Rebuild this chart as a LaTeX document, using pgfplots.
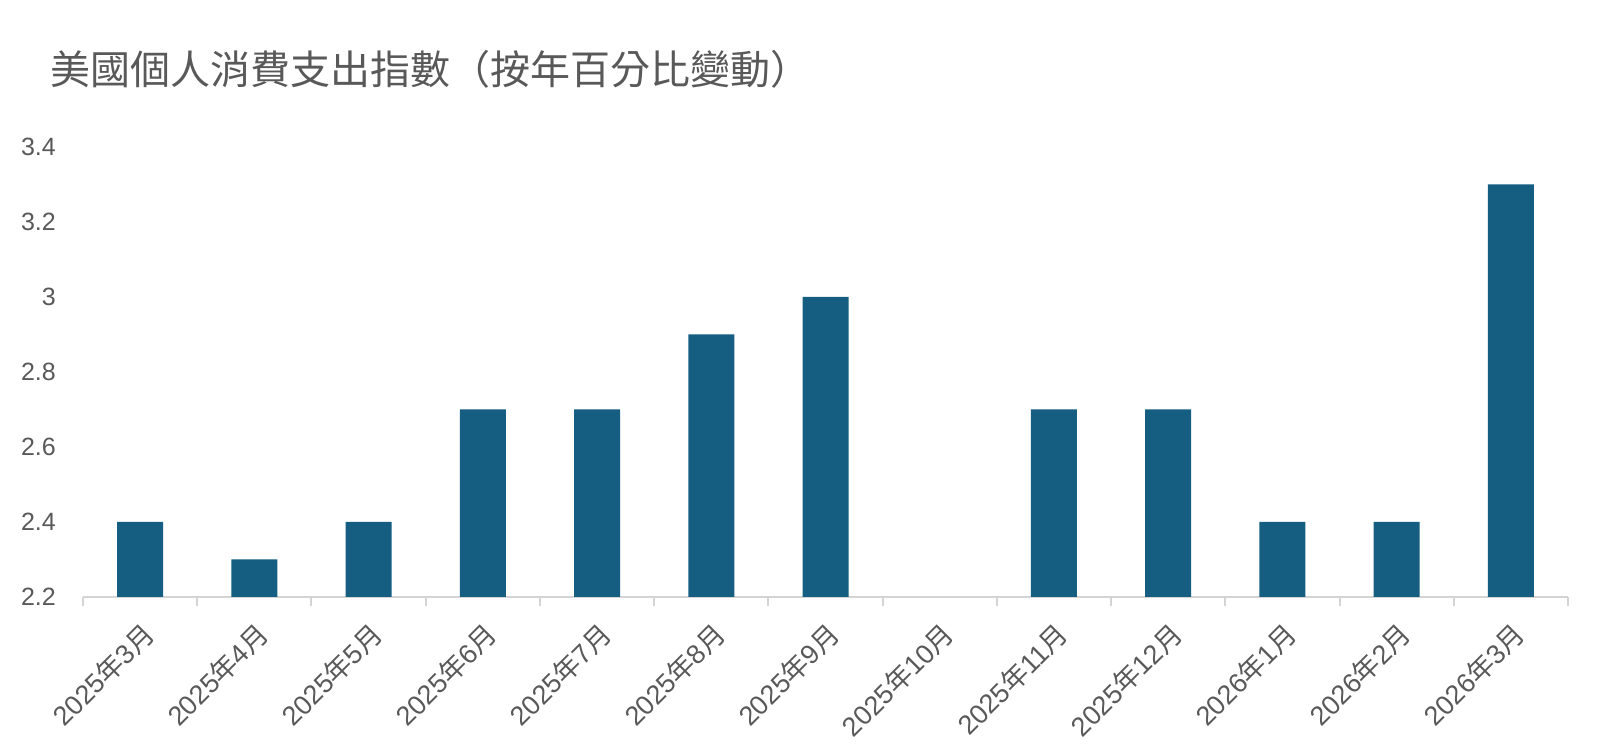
\documentclass[border=0pt]{standalone}
\usepackage{fontspec}
\setmainfont{Liberation Sans}
\newfontfamily\cjk{Noto Sans CJK TC}
\usepackage{pgfplots}
\pgfplotsset{compat=1.18}
\definecolor{barblue}{HTML}{155E82}
\definecolor{txtgray}{HTML}{595959}
\definecolor{axgray}{HTML}{D4D4D4}
\newcommand{\lab}[2]{#1{\cjk 年}#2{\cjk 月}}
\begin{document}
\begin{tikzpicture}
\useasboundingbox (0,0) rectangle (1600pt,746pt);
\fill[white] (0,0) rectangle (1600pt,746pt);
\node[anchor=west, text=txtgray, font=\cjk\fontsize{40}{46}\selectfont, inner sep=0pt] at (50pt,677pt) {美國個人消費支出指數（按年百分比變動）};
\begin{axis}[
  at={(83pt,149pt)}, anchor=south west,
  scale only axis, width=1485pt, height=450pt,
  xmin=-0.5, xmax=12.5, ymin=2.2, ymax=3.4,
  ytick={2.2,2.4,2.6,2.8,3.0,3.2,3.4},
  yticklabels={2.2,2.4,2.6,2.8,3,3.2,3.4},
  xtick={0,1,2,3,4,5,6,7,8,9,10,11,12},
  xticklabels={\lab{2025}{3},\lab{2025}{4},\lab{2025}{5},\lab{2025}{6},\lab{2025}{7},\lab{2025}{8},\lab{2025}{9},\lab{2025}{10},\lab{2025}{11},\lab{2025}{12},\lab{2026}{1},\lab{2026}{2},\lab{2026}{3}},
  minor xtick={-0.5,0.5,1.5,2.5,3.5,4.5,5.5,6.5,7.5,8.5,9.5,10.5,11.5,12.5},
  ybar, bar width=46pt,
  axis x line*=bottom, axis y line*=left,
  y axis line style={draw=none},
  x axis line style={draw=axgray, line width=2pt, -},
  xtick align=outside,
  major tick length=0pt,
  minor tick length=9pt,
  minor tick style={draw=axgray, line width=2pt},
  major tick style={draw=none},
  /pgf/number format/assume math mode=true,
  yticklabel style={font=\fontsize{25}{30}\selectfont, text=txtgray, inner sep=0pt, anchor=east, xshift=-27pt},
  xticklabel style={font=\fontsize{27}{31}\selectfont, text=txtgray, inner sep=0pt, xshift=0pt, yshift=-23pt, rotate=45, anchor=north east},
  clip=true,
]
\addplot[fill=barblue, draw=none] coordinates {
(0,2.4) (1,2.3) (2,2.4) (3,2.7) (4,2.7) (5,2.9) (6,3.0)
(8,2.7) (9,2.7) (10,2.4) (11,2.4) (12,3.3)};
\end{axis}
\end{tikzpicture}
\end{document}
